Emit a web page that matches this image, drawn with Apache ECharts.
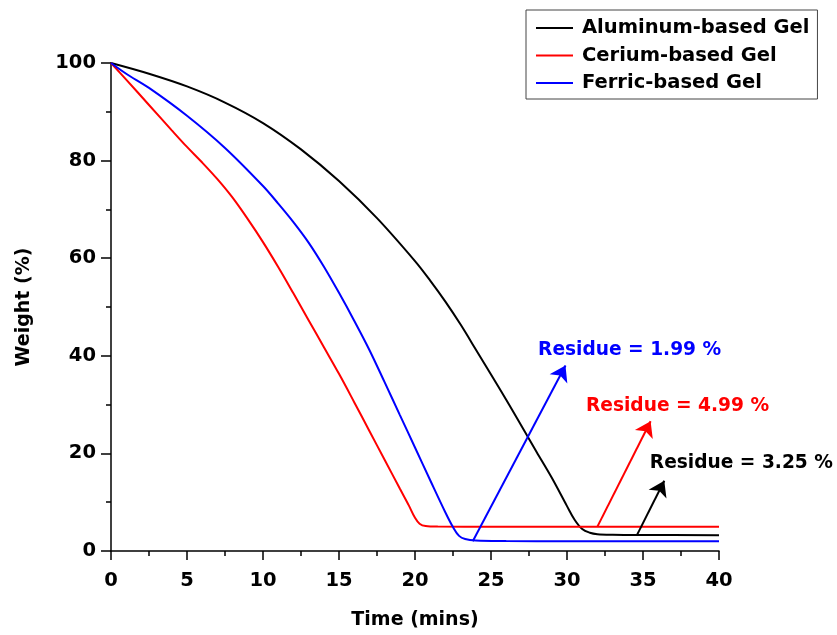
<!DOCTYPE html>
<html>
<head>
<meta charset="utf-8">
<script src="https://cdn.jsdelivr.net/npm/echarts@6/dist/echarts.min.js"></script>
<style>
  html, body { margin: 0; padding: 0; background: #fff; }
  #chart { width: 837px; height: 635px; }
</style>
</head>
<body>
<div id="chart"></div>
<script>
// Thermogravimetric curves: weight loss over time for three gels
const seriesNames = ['Aluminum-based Gel', 'Cerium-based Gel', 'Ferric-based Gel'];
const seriesColors = ['#000000', '#ff0000', '#0000ff'];

const timeAl   = [0, 2.5, 5, 7.5, 10, 12.5, 15, 17.5, 20, 21, 22, 23, 24, 26, 28, 29, 30, 30.5, 31, 31.5, 32, 33, 35, 40];
const weightAl = [100, 97.8, 95.2, 91.9, 87.7, 82.3, 75.8, 68.2, 59.4, 55.4, 51.1, 46.4, 41.3, 31.0, 20.3, 15.0, 9.2, 6.4, 4.5, 3.75, 3.45, 3.33, 3.28, 3.25];

const timeCe   = [0, 1, 2.5, 4, 5, 6, 7, 8, 9, 10, 11, 12, 13, 14, 15, 16, 17, 18, 19, 19.6, 20, 20.3, 20.7, 21.5, 25, 40];
const weightCe = [100, 96.6, 91.4, 86.2, 82.8, 79.6, 76.2, 72.4, 68.0, 63.3, 58.2, 52.8, 47.3, 41.8, 36.3, 30.5, 24.6, 18.7, 12.8, 9.3, 6.8, 5.6, 5.12, 5.01, 4.99, 4.99];

const timeFe   = [0, 1, 2.5, 5, 7.5, 10, 11, 12, 13, 14, 15, 16, 17, 18, 19, 20, 21, 22, 22.5, 22.9, 23.3, 24, 26, 30, 40];
const weightFe = [100, 97.8, 94.9, 89.2, 82.6, 74.8, 71.2, 67.4, 63.2, 58.3, 52.9, 47.2, 41.2, 34.6, 27.9, 21.2, 14.5, 7.9, 4.9, 3.1, 2.45, 2.15, 2.05, 2.0, 1.99];

// Residue annotations: value, arrow start/end (data coords), label anchor
const residueValues = [3.25, 4.99, 1.99];
const arrowStartX   = [34.6, 32.0, 23.8];
const arrowEndX     = [36.4, 35.5, 29.9];
const arrowEndY     = [14.4, 26.6, 38.0];
const labelX        = [35.45, 31.25, 28.1];
const labelY        = [18.1, 29.7, 41.1];

const xTicks = { min: 0, max: 40, interval: 5 };
const yTicks = { min: 0, max: 100, interval: 20 };

const zip = (xs, ys) => xs.map((x, i) => [x, ys[i]]);
const curves = [zip(timeAl, weightAl), zip(timeCe, weightCe), zip(timeFe, weightFe)];

const font = '"DejaVu Sans", Verdana, sans-serif';

const lineSeries = curves.map((data, i) => ({
  name: seriesNames[i],
  type: 'line',
  data: data,
  smooth: 0.35,
  symbol: 'none',
  showSymbol: false,
  lineStyle: { color: seriesColors[i], width: 2 },
  itemStyle: { color: seriesColors[i] },
  z: 2
}));

const arrowSeries = residueValues.map((v, i) => ({
  type: 'lines',
  coordinateSystem: 'cartesian2d',
  symbol: ['none', 'arrow'],
  symbolSize: 15,
  lineStyle: { color: seriesColors[i], width: 2, opacity: 1 },
  data: [{ coords: [[arrowStartX[i], v], [arrowEndX[i], arrowEndY[i]]] }],
  silent: true,
  z: 3
}));

const labelSeries = residueValues.map((v, i) => ({
  type: 'scatter',
  symbolSize: 0,
  data: [[labelX[i], labelY[i]]],
  silent: true,
  clip: false,
  itemStyle: { opacity: 1 },
  label: {
    show: true,
    position: 'right',
    distance: 0,
    formatter: 'Residue = ' + v.toFixed(2) + ' %',
    color: seriesColors[i],
    opacity: 1,
    fontFamily: font,
    fontWeight: 'bold',
    fontSize: 18.6
  },
  z: 4
}));

const chart = echarts.init(document.getElementById('chart'), null, { renderer: 'canvas' });

chart.setOption({
  animation: false,
  backgroundColor: '#ffffff',
  grid: { left: 111, right: 118, top: 63, bottom: 80, containLabel: false },
  legend: {
    data: seriesNames.map(n => ({ name: n, icon: 'rect' })),
    orient: 'vertical',
    left: 526,
    top: 10,
    padding: [8, 8, 6, 10],
    itemWidth: 37,
    itemHeight: 2,
    itemGap: 7.5,
    borderColor: '#444',
    borderWidth: 1,
    backgroundColor: '#fff',
    textStyle: { color: '#000', fontFamily: font, fontWeight: 'bold', fontSize: 19.5, lineHeight: 20, padding: [0, 0, 0, 4] }
  },
  xAxis: {
    type: 'value',
    min: xTicks.min,
    max: xTicks.max,
    interval: xTicks.interval,
    name: 'Time (mins)',
    nameLocation: 'middle',
    nameGap: 60,
    nameTextStyle: { color: '#000', fontFamily: font, fontWeight: 'bold', fontSize: 19 },
    axisLine: { show: true, lineStyle: { color: '#000', width: 1.5 } },
    axisTick: { show: true, inside: false, length: 9, lineStyle: { color: '#000', width: 1.5 } },
    minorTick: { show: true, splitNumber: 2, length: 5, lineStyle: { color: '#000', width: 1.5 } },
    axisLabel: { color: '#000', fontFamily: font, fontWeight: 'bold', fontSize: 19.5, margin: 20 },
    splitLine: { show: false }
  },
  yAxis: {
    type: 'value',
    min: yTicks.min,
    max: yTicks.max,
    interval: yTicks.interval,
    name: 'Weight (%)',
    nameLocation: 'middle',
    nameGap: 77,
    nameRotate: 90,
    nameTextStyle: { color: '#000', fontFamily: font, fontWeight: 'bold', fontSize: 19 },
    axisLine: { show: true, lineStyle: { color: '#000', width: 1.5 } },
    axisTick: { show: true, inside: false, length: 10, lineStyle: { color: '#000', width: 1.5 } },
    minorTick: { show: true, splitNumber: 2, length: 5, lineStyle: { color: '#000', width: 1.5 } },
    axisLabel: { color: '#000', fontFamily: font, fontWeight: 'bold', fontSize: 19.5, margin: 15 },
    splitLine: { show: false }
  },
  series: [...lineSeries, ...arrowSeries, ...labelSeries]
});
</script>
</body>
</html>
